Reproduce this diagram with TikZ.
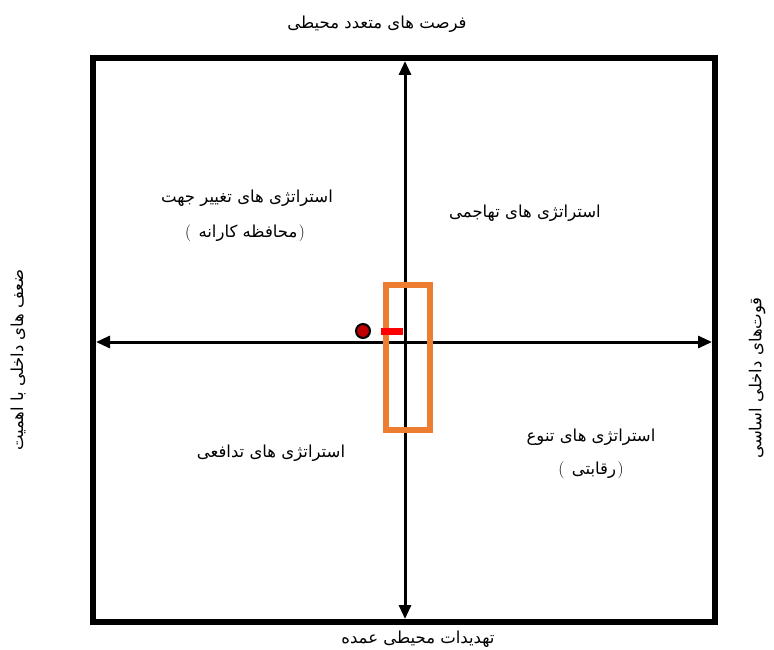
\documentclass[tikz,border=0pt]{standalone}
\usepackage{fontspec}
\newfontfamily\fa[Script=Arabic]{DejaVu Sans}
\TeXXeTstate=1
\usetikzlibrary{arrows.meta}
\definecolor{boxorange}{HTML}{ED7D31}
\definecolor{dotred}{HTML}{C00000}
\tikzset{
  frame/.style={line width=5.5pt},
  axis/.style={line width=3pt,{Triangle[length=14pt,width=12pt]}-{Triangle[length=14pt,width=12pt]}},
  lbl/.style={font=\fa\fontsize{16.5}{19}\selectfont,inner sep=1pt,align=center},
  par/.style={font=\rmfamily\fontsize{17}{19}\selectfont,inner sep=0pt},
}
\begin{document}
\begin{tikzpicture}[x=1pt,y=-1pt]
\useasboundingbox (0,0) rectangle (774,650);
\draw[frame] (93,58) rectangle (715,622);
\coordinate (T) at (405,61);
\coordinate (B) at (405,619);
\coordinate (L) at (96,342);
\coordinate (R) at (712,342);
\draw[axis] (T) -- (B);
\draw[axis] (L) -- (R);
\draw[boxorange,line width=5.5pt] (386,285) rectangle (430,430);
\fill[red] (381,328) rectangle (403,335);
\node[circle,draw=black,line width=2pt,fill=dotred,minimum size=14pt,inner sep=0pt] (dot) at (363,331) {};
\node[lbl] (top) at (377,24) {\beginR فرصت های متعدد محیطی\endR};
\node[lbl] (tl1) at (247,198) {\beginR استراتژی های تغییر جهت\endR};
\node[lbl] (tl2) at (248,233) {\beginR محافظه کارانه\endR};
\node[par,anchor=east] (tl2l) at ([xshift=-6pt]tl2.west) {(};
\node[par,anchor=west] (tl2r) at ([xshift=0pt]tl2.east) {)};
\node[lbl] (tr) at (525,213) {\beginR استراتژی های تهاجمی\endR};
\node[lbl] (bl) at (271,453) {\beginR استراتژی های تدافعی\endR};
\node[lbl] (br1) at (591,437) {\beginR استراتژی های تنوع\endR};
\node[lbl] (br2) at (594,470) {\beginR رقابتی\endR};
\node[par,anchor=east] (br2l) at ([xshift=-6pt]br2.west) {(};
\node[par,anchor=west] (br2r) at ([xshift=0pt]br2.east) {)};
\node[lbl] (bot) at (418,639) {\beginR تهدیدات محیطی عمده\endR};
\node[lbl,rotate=90] (lft) at (18,360) {\beginR ضعف های داخلی با اهمیت\endR};
\node[lbl,rotate=90] (rgt) at (757,378) {\beginR قوت‌های داخلی اساسی\endR};
\end{tikzpicture}
\end{document}
